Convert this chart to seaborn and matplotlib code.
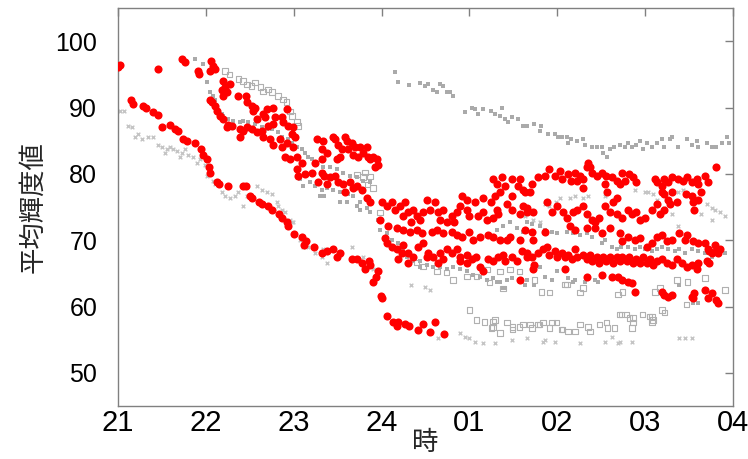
import matplotlib
matplotlib.use("Agg")
import matplotlib.pyplot as plt
import seaborn as sns
import pandas as pd

# ---------------- data (hour of night, mean brightness) ----------------
hour_ticks = [21, 22, 23, 24, 25, 26, 27, 28]
hour_labels = ["21", "22", "23", "24", "01", "02", "03", "04"]
value_ticks = [50, 60, 70, 80, 90, 100]

red_points = [
    (21.00,96.1),(21.02,96.4),(21.46,95.8),(21.15,91.1),(21.17,90.6),(21.28,90.2),(21.32,89.9),
    (21.40,89.3),(21.46,88.8),(21.50,87.0),(21.59,87.3),(21.65,86.7),(21.68,86.4),(21.74,85.2),
    (21.78,84.9),(21.88,84.7),(21.94,83.7),(21.97,82.8),(22.01,82.2),(22.04,81.1),(22.05,80.2),
    (22.13,78.7),(22.15,78.4),(22.25,78.1),(22.42,78.1),(22.46,78.2),(22.50,76.7),(22.52,76.4),
    (22.60,75.8),(22.64,75.5),(22.71,75.2),(22.75,74.6),(22.83,73.9),(22.87,73.3),(22.92,72.7),
    (22.93,72.1),(23.00,71.0),(23.09,70.5),(23.14,69.8),(23.12,69.3),(23.23,68.9),(23.32,68.0),
    (23.38,68.3),(23.45,68.7),(23.49,67.5),(23.53,68.1),(23.66,67.2),(23.72,67.1),(23.78,66.6),
    (23.86,66.9),(23.87,66.2),(23.81,65.6),(23.96,65.4),(23.94,64.5),(23.90,63.7),(23.99,61.6),
    (24.00,61.3),(24.06,58.5),(24.13,57.6),(24.19,57.7),(24.17,57.1),(24.27,57.4),(24.31,57.1),
    (24.41,56.5),(24.47,57.3),(24.55,56.2),(24.61,57.6),(24.71,55.9),
    (21.73,97.3),(21.76,96.8),(21.91,95.5),(21.92,95.0),(22.06,97.0),(22.08,96.2),(22.10,95.8),
    (22.05,95.5),(22.19,94.0),(22.22,93.1),(22.18,92.7),(22.24,92.4),(22.19,91.7),(22.27,93.5),
    (22.37,91.7),(22.46,91.7),(22.47,90.9),(22.52,90.2),(22.56,90.0),(22.54,89.4),(22.65,89.0),
    (22.70,89.7),(22.76,90.0),(22.67,88.5),(22.76,87.5),(22.71,87.2),(22.58,88.2),(22.05,91.2),
    (22.07,90.8),(22.10,90.2),(22.13,89.4),(22.16,88.7),(22.19,88.2),(22.24,87.0),(22.30,87.2),
    (22.39,86.7),(22.42,86.4),(22.47,87.0),(22.52,86.7),(22.58,86.3),(22.64,86.4),(22.65,85.6),
    (22.73,85.2),(22.76,84.4),(22.84,85.2),(22.87,84.1),(22.92,84.7),(22.98,86.0),(22.99,87.0),
    (22.93,87.2),(22.79,88.5),(22.87,88.5),(22.88,87.8),(22.25,87.3),(22.39,85.5),(22.92,89.7),
    (23.01,85.5),(22.99,84.1),(22.90,82.6),(22.96,82.2),(23.04,82.6),(23.09,81.7),(23.04,80.7),
    (23.05,79.6),(23.13,79.9),(23.21,80.2),(23.24,81.7),(23.26,85.2),(23.32,82.2),(23.28,78.7),
    (23.45,85.6),(23.47,85.2),(23.33,84.9),(23.32,83.7),(23.38,83.2),(23.50,84.4),(23.55,83.7),
    (23.53,82.6),(23.49,82.2),(23.61,84.9),(23.66,84.7),(23.70,84.1),(23.75,84.0),(23.79,83.2),
    (23.84,82.6),(23.87,82.2),(23.90,82.5),(23.95,82.2),(23.96,81.4),(23.92,81.1),(23.73,82.6),
    (23.67,82.9),(23.62,83.7),(23.83,84.1),(23.58,85.6),
    (23.32,80.2),(23.35,79.6),(23.41,79.5),(23.47,79.6),(23.50,78.7),(23.56,78.4),(23.64,78.7),
    (23.67,77.9),(23.72,78.1),(23.78,77.6),(23.83,76.4),(23.87,75.8),(23.38,78.4),(23.58,77.3),
    (24.52,76.1),(24.91,76.6),(24.97,76.1),(25.15,76.4),(25.29,76.6),(25.27,79.2),(25.31,78.4),
    (25.37,79.5),(25.40,78.1),(25.35,77.3),(25.49,79.2),(25.57,79.2),(25.55,78.1),(25.61,77.6),
    (25.48,76.6),
    (24.00,75.7),(24.06,75.1),(24.12,75.7),(24.15,74.6),(24.21,75.1),(24.27,75.7),(24.30,74.2),
    (24.24,73.6),(24.36,74.6),(24.40,73.6),(24.44,73.1),(24.34,72.8),(24.47,74.2),(24.61,75.7),
    (24.55,74.6),(24.64,74.2),(24.70,74.6),(24.66,73.1),(24.74,72.7),(24.80,73.6),(24.83,72.7),
    (24.86,74.3),(24.89,75.1),(24.97,74.6),(25.00,73.6),(25.06,75.7),(25.10,73.6),(25.15,74.2),
    (25.20,73.1),(25.25,75.7),(25.31,74.6),(25.32,73.9),(25.27,73.4),(25.43,75.4),(25.49,74.6),
    (25.57,73.9),(25.61,75.1),(25.65,74.3),(24.70,71.1),(24.63,71.6),(24.80,71.3),(24.86,70.8),
    (24.92,70.5),(25.00,71.3),(25.04,70.1),(25.12,70.5),(25.21,70.8),(25.27,70.5),(25.35,70.1),
    (25.43,70.1),(25.46,70.5),(25.57,70.1),(24.57,71.3),(24.46,71.1),(24.40,71.6),(24.32,71.3),
    (24.24,71.6),(24.17,71.9),(24.07,72.1),(24.04,70.4),(24.06,69.6),(24.12,69.0),(24.17,68.6),
    (24.23,68.1),(24.30,68.1),(24.24,69.3),(24.41,68.9),(24.47,69.6),(24.53,68.1),(24.58,67.5),
    (24.66,68.1),(24.74,68.6),(24.80,68.1),(24.86,68.6),(24.89,67.5),(24.97,67.8),(25.03,67.1),
    (25.08,67.4),(25.12,66.0),(25.15,65.3),(25.21,67.1),(25.27,66.8),(25.32,67.4),(25.38,67.8),
    (25.40,66.8),(25.48,67.4),(25.54,66.8),(25.60,68.3),(25.65,67.4),(25.57,64.0),(24.97,66.6),
    (24.89,66.8),(24.70,67.1),(24.64,66.6),(24.52,67.4),(24.36,67.5),(24.30,66.6),(24.19,67.1),
    (23.98,73.1),
    (26.35,81.7),(26.34,81.1),(26.37,81.0),(25.91,80.7),(26.03,80.4),(25.86,79.6),(25.78,79.5),
    (25.97,79.6),(26.05,79.2),(26.12,79.9),(26.20,80.2),(26.26,79.6),(26.16,78.9),(26.23,78.9),
    (26.29,79.2),(26.40,80.2),(26.45,79.6),(26.51,80.2),(26.56,79.6),(26.62,79.5),(26.68,78.9),
    (26.74,80.2),(26.77,78.9),(26.82,79.9),(26.86,79.5),(26.90,78.7),(26.71,78.4),(26.54,78.4),
    (25.71,78.4),(25.69,77.3),(26.29,77.9),(27.11,79.2),(27.14,78.7),(27.19,78.1),(27.22,79.2),
    (27.26,78.7),(27.30,79.5),(27.37,79.2),(27.43,78.9),(27.48,79.5),(27.53,78.7),(27.59,79.2),
    (27.60,78.4),(27.68,79.6),(27.71,78.7),(27.81,81.0),(27.19,77.3),(27.22,76.9),(27.26,76.1),
    (27.30,77.3),(27.47,76.9),(27.53,76.6),(27.64,77.2),(27.60,76.1),(25.63,77.3),(26.57,77.2),
    (26.68,76.4),
    (25.66,74.9),(25.72,74.3),(25.88,75.7),(25.94,74.3),(26.00,75.1),(26.06,74.2),(26.11,73.4),
    (26.18,74.2),(26.22,74.6),(26.29,75.1),(26.34,73.9),(26.39,73.1),(26.43,72.7),(26.48,73.4),
    (26.54,75.1),(26.60,74.2),(26.63,75.7),(26.68,73.9),(26.74,73.4),(26.80,74.6),(26.85,73.9),
    (26.90,74.3),(26.94,73.1),(27.00,73.4),(27.08,74.6),(27.13,75.4),(27.17,73.9),(27.22,74.6),
    (27.28,75.4),(27.36,75.7),(27.54,75.7),(27.56,74.6),(25.63,71.6),(25.71,71.3),(25.72,70.1),
    (25.86,71.3),(26.14,72.1),(26.20,71.6),(26.34,71.9),(26.43,71.9),(26.51,71.1),(26.60,71.9),
    (26.71,71.1),(26.74,69.8),(26.80,70.5),(26.88,70.1),(26.94,70.4),(27.02,69.0),(27.08,69.6),
    (27.13,70.5),(27.19,70.8),(27.25,69.8),(27.30,70.1),(27.39,71.1),(27.45,70.1),(27.48,70.8),
    (27.54,69.8),(27.60,69.6),(27.68,69.6),(27.71,68.6),(27.79,69.3),(27.83,68.3),(27.85,68.6),
    (27.73,68.3),
    (25.65,68.1),(25.71,67.4),(25.74,66.3),(25.78,68.1),(25.84,68.6),(25.88,69.0),(25.91,67.8),
    (25.97,68.3),(26.00,67.4),(26.05,68.1),(26.09,67.4),(26.12,67.8),(26.17,67.1),(26.20,68.6),
    (26.23,67.5),(26.29,67.8),(26.34,67.1),(26.37,67.8),(26.40,66.8),(26.45,67.4),(26.48,66.6),
    (26.52,67.4),(26.56,66.8),(26.60,67.4),(26.63,66.6),(26.68,67.4),(26.71,66.8),(26.74,67.5),
    (26.79,66.8),(26.82,67.4),(26.86,66.6),(26.90,67.1),(26.94,66.6),(26.97,67.4),(27.02,66.6),
    (27.05,67.1),(27.09,66.3),(27.13,66.8),(27.19,67.1),(27.25,66.6),(27.30,66.3),(27.36,67.1),
    (27.42,66.6),(27.48,65.9),(27.53,66.3),(27.59,65.6),(27.60,66.6),(27.70,66.8),(27.76,68.1),
    (27.73,66.6),(27.81,68.3),(27.83,68.1),(26.09,65.6),(26.34,64.5),(26.51,64.8),(26.62,64.5),
    (26.69,64.5),(26.74,64.0),(26.80,63.7),(26.85,63.6),(26.88,62.2),(27.19,62.2),(27.22,61.8),
    (27.26,61.5),(27.31,61.8),(27.53,61.5),(27.56,62.1),(27.54,61.3),(27.68,62.5),(27.71,61.3),
    (27.76,62.1),(27.83,60.6),(27.81,61.0),(25.72,65.6),
]

gray_square_points = [
    (21.88,97.3),(21.97,96.5),(22.01,93.8),(22.05,92.3),(22.08,91.7),(22.10,91.2),(22.18,89.0),
    (22.19,88.7),(22.25,88.2),(22.31,87.9),(22.39,87.8),(22.42,87.9),(22.48,87.8),(22.56,87.5),
    (22.64,87.0),(22.70,86.7),(22.75,86.7),(22.82,86.3),(22.87,85.6),(22.93,85.2),(22.98,84.7),
    (23.04,84.1),(23.09,83.7),(23.13,83.2),(23.16,82.6),(23.21,82.2),(23.07,79.2),(23.10,78.1),
    (23.18,78.7),(23.24,78.1),(23.32,77.6),(23.35,76.6),(23.33,81.1),(23.41,81.0),(23.49,80.7),
    (23.56,80.2),(23.64,79.6),(23.72,79.5),(23.79,78.9),(23.87,78.7),(23.38,77.9),(23.45,77.6),
    (23.53,77.2),(23.62,76.9),(23.67,76.6),(23.75,75.7),(23.83,74.9),(23.30,76.6),(23.53,75.7),
    (23.61,75.7),(23.72,75.1),(23.75,74.6),(23.87,74.2),(23.96,73.1),
    (23.98,71.6),(24.06,71.1),(24.12,70.1),(24.19,69.6),(24.24,68.6),(24.29,67.5),(24.36,66.8),
    (24.44,66.0),(24.52,66.3),(24.58,65.9),(24.66,66.0),(24.74,65.6),(24.81,65.9),(24.89,65.6),
    (24.97,65.3),(25.04,64.8),(25.12,64.5),(25.20,64.0),(25.27,64.3),(25.35,63.7),(25.43,64.0),
    (25.49,64.3),(25.57,63.7),(25.65,64.0),(25.38,62.8),(24.44,66.8),(25.38,72.1),(25.46,72.7),
    (25.54,71.9),(25.61,71.3),(25.31,71.6),(25.31,63.7),(25.40,62.8),(25.63,63.3),(25.74,63.3),
    (26.18,63.7),(26.46,63.7),(27.39,63.3),(27.54,60.6),(27.60,60.6),
    (25.65,72.8),(25.71,72.4),(25.80,72.1),(25.86,71.6),(25.94,71.3),(26.00,71.1),(26.11,71.3),
    (26.18,71.1),(26.26,70.8),(26.34,71.1),(26.40,70.5),
    (26.51,69.6),(26.54,70.1),(26.62,69.0),(26.68,68.6),(26.73,69.0),(26.80,68.9),(26.88,68.6),
    (26.94,69.0),(27.00,68.6),(27.08,68.3),(27.13,68.6),(27.19,68.9),(27.26,68.6),(27.34,68.3),
    (27.39,68.6),(27.45,68.1),(27.53,68.6),(27.60,68.3),(27.68,68.1),(27.76,67.5),(27.83,67.8),
    (27.91,68.1),(25.66,67.1),(25.74,66.0),(25.80,65.9),(25.86,64.5),(25.94,64.0),(26.00,65.3),
    (26.12,64.3),(26.20,64.0),(26.31,63.7),(26.43,64.0),
    (24.15,95.3),(24.19,93.8),(24.31,93.4),(24.44,93.7),(24.49,93.2),(24.53,93.5),(24.58,92.7),
    (24.63,92.3),(24.66,93.5),(24.70,93.2),(24.74,92.4),(24.78,92.3),(24.81,91.7),(24.95,89.3),
    (25.03,90.0),(25.06,89.7),(25.10,89.0),(25.15,89.7),(25.25,89.4),(25.29,89.0),(25.35,88.7),
    (25.37,90.0),(25.40,88.2),(25.44,87.8),(25.49,88.5),(25.55,88.2),(25.61,87.2),(25.66,87.2),
    (25.74,87.5),(25.82,87.2),(25.80,86.4),(25.89,86.0),(25.97,86.0),(26.01,85.6),(26.05,85.5),
    (26.11,85.6),(26.12,84.7),(26.16,85.2),(26.22,84.9),(26.29,85.2),(26.31,84.4),(26.39,84.1),
    (26.45,84.0),(26.51,84.1),(26.52,83.2),(26.57,82.6),(26.60,83.7),(26.65,84.1),(26.71,84.4),
    (26.77,84.0),(26.80,84.7),(26.85,84.0),(26.90,84.4),(26.94,84.9),(26.97,83.7),(27.02,84.7),
    (27.08,84.1),(27.13,84.7),(27.19,85.2),(27.22,84.1),(27.28,85.2),(27.31,85.5),(27.37,84.1),
    (27.48,85.2),(27.53,84.4),(27.59,84.9),(27.60,84.1),(27.70,84.7),(27.76,84.1),(27.81,84.0),
    (27.87,84.7),(27.93,85.5),(27.96,84.7),
]

gray_cross_points = [
    (21.02,89.4),(21.07,89.4),(21.11,87.2),(21.16,87.0),(21.19,85.6),(21.23,86.0),(21.27,85.2),
    (21.34,85.6),(21.40,85.6),(21.46,84.4),(21.50,84.1),(21.56,83.7),(21.53,83.2),(21.59,84.0),
    (21.63,83.7),(21.67,83.4),(21.73,83.2),(21.71,82.6),(21.76,83.7),(21.80,82.9),(21.85,82.5),
    (21.90,81.7),(21.93,82.2),(21.99,81.4),(22.01,79.6),(22.08,78.9),(22.10,78.4),(22.18,77.2),
    (22.22,76.6),(22.27,76.4),(22.33,76.6),(22.37,77.2),(22.42,75.1),(22.47,76.6),(22.58,78.1),
    (22.64,77.6),(22.70,77.2),(22.75,76.9),(22.81,75.7),(22.87,74.6),(22.90,74.2),(22.96,73.1),
    (22.99,72.7),(22.82,75.1),(22.98,72.7),(23.07,70.1),(23.10,68.9),(23.16,69.0),(23.24,68.1),
    (23.33,68.6),(23.32,67.4),(23.38,66.6),(23.53,67.8),(23.66,69.0),(23.79,67.5),(23.90,65.6),
    (24.34,63.3),(24.49,63.0),(24.55,62.5),(24.64,55.3),(24.89,56.0),(24.95,55.4),(25.00,55.3),
    (25.06,54.7),(25.15,54.5),(25.29,54.5),(25.49,55.0),(25.66,55.3),(25.84,54.7),(25.97,54.7),
    (25.86,55.0),(26.26,54.5),(26.54,54.7),(26.62,55.4),(26.69,54.5),(26.71,54.7),(26.85,54.7),
    (27.39,55.3),(27.45,55.3),(27.53,55.3),
    (26.29,76.4),(26.35,76.6),(26.54,76.6),(26.88,77.6),(27.00,77.2),(27.03,77.3),(27.09,76.9),
    (27.37,77.3),(27.43,77.6),(27.70,75.4),(27.76,74.9),(27.79,74.6),(27.85,74.3),(27.91,73.6),
    (27.13,76.1),(27.22,74.9),(27.30,73.9),(27.37,72.1),(27.64,73.9),(27.76,73.1),(25.63,73.6),
    (25.72,73.1),(25.80,72.8),(25.86,75.4),(25.91,75.1),(25.99,75.7),(26.03,76.4),(26.14,76.4),
    (26.20,76.6),
]

gray_hollow_points = [
    (22.22,95.5),(22.27,95.0),(22.37,94.3),(22.42,94.0),(22.47,93.5),(22.52,93.2),(22.56,93.8),
    (22.62,93.1),(22.65,92.4),(22.71,92.7),(22.75,92.3),(22.82,91.7),(22.88,91.2),(22.92,90.8),
    (22.96,89.4),(22.98,88.7),(23.04,87.8),(23.05,87.2),(23.72,79.9),(23.79,79.5),(23.87,79.6),
    (23.90,77.9),(23.84,78.4),(23.81,80.2),(23.98,74.2),
    (24.40,66.6),(24.47,66.0),(24.63,65.3),(24.74,65.1),(24.81,64.0),(24.97,64.5),(25.08,64.5),
    (25.20,65.6),(25.35,65.3),(25.46,65.6),(25.57,65.3),(25.23,63.6),(25.38,62.7),(25.82,62.2),
    (25.91,62.1),(26.09,63.3),(26.26,62.1),(26.69,61.8),(26.74,62.2),(27.11,62.2),(27.17,62.8),
    (27.47,60.3),(25.74,64.0),(26.11,63.3),(26.29,62.8),(27.36,64.0),(27.48,63.7),(27.68,64.3),
    (27.91,62.5),(27.19,59.5),(26.73,58.8),(26.86,58.3),(26.97,58.8),(27.08,58.5),
    (25.00,59.5),(25.08,58.0),(25.17,57.7),(25.27,56.9),(25.29,58.0),(25.35,56.0),(25.43,57.6),
    (25.49,56.9),(25.57,56.9),(25.61,57.3),(25.27,57.7),(25.25,56.8),(25.49,56.5),(25.71,56.8),
    (25.78,57.3),(25.84,57.6),(25.91,56.8),(25.94,57.6),(25.99,57.6),(26.05,56.5),(26.12,56.2),
    (26.20,56.2),(26.26,57.3),(26.35,56.9),(26.37,56.2),(26.48,57.3),(26.56,57.6),(26.57,56.8),
    (26.65,56.8),(26.71,58.8),(26.79,58.8),(26.82,58.3),(26.86,57.6),(27.05,58.5),(27.09,58.0),
    (27.22,59.1),(27.08,57.6),(26.85,56.8),(25.69,57.3),(25.80,57.3),(26.06,56.5),
]


def frame(points):
    return pd.DataFrame(points, columns=["hour", "value"])


red_df = frame(red_points)
sq_df = frame(gray_square_points)
cr_df = frame(gray_cross_points)
ho_df = frame(gray_hollow_points)

# ---------------- figure ----------------
sns.set_theme(style="white")
plt.rcParams["font.family"] = ["Liberation Sans", "Noto Sans CJK JP", "DejaVu Sans"]

fig = plt.figure(figsize=(7.48, 4.59), dpi=100)
ax = fig.add_axes([118 / 748, 1 - 406 / 459, (733 - 118) / 748, (406 - 8) / 459])

sns.scatterplot(data=ho_df, x="hour", y="value", ax=ax, marker="s", s=16,
                facecolor="none", edgecolor="#b0b0b0", linewidth=0.8, zorder=2)
sns.scatterplot(data=cr_df, x="hour", y="value", ax=ax, marker="x", s=7,
                color="#c4c4c4", linewidth=1.0, zorder=2)
sns.scatterplot(data=sq_df, x="hour", y="value", ax=ax, marker="s", s=11,
                color="#aaaaaa", linewidth=0, zorder=3)
sns.scatterplot(data=red_df, x="hour", y="value", ax=ax, marker="o", s=34,
                color="#ff0000", linewidth=0, zorder=4)

ax.collections[0].set_facecolor("none")
ax.collections[0].set_edgecolor("#b0b0b0")

ax.set_xlim(21, 28)
ax.set_ylim(45, 105)
ax.set_xticks(hour_ticks)
ax.set_xticklabels(hour_labels)
ax.set_yticks(value_ticks)

ax.tick_params(axis="both", direction="in", length=6, width=1, color="#808080",
               top=True, right=True, labelcolor="black")
ax.tick_params(axis="y", labelsize=18, pad=15)
ax.tick_params(axis="x", labelsize=21, pad=2)
for sp in ax.spines.values():
    sp.set_color("#808080")
    sp.set_linewidth(1.0)

ax.set_xlabel("時", fontsize=19, family=["Noto Sans CJK JP"])
ax.xaxis.set_label_coords(0.5, (406 - 442) / 398)
ax.xaxis.label.set_va("center")
ax.set_ylabel("平均輝度値", fontsize=19, family=["Noto Sans CJK JP"])
ax.yaxis.set_label_coords((33 - 118) / 615, 0.5)
ax.yaxis.label.set_va("center")

fig.savefig("out.png", dpi=100)
